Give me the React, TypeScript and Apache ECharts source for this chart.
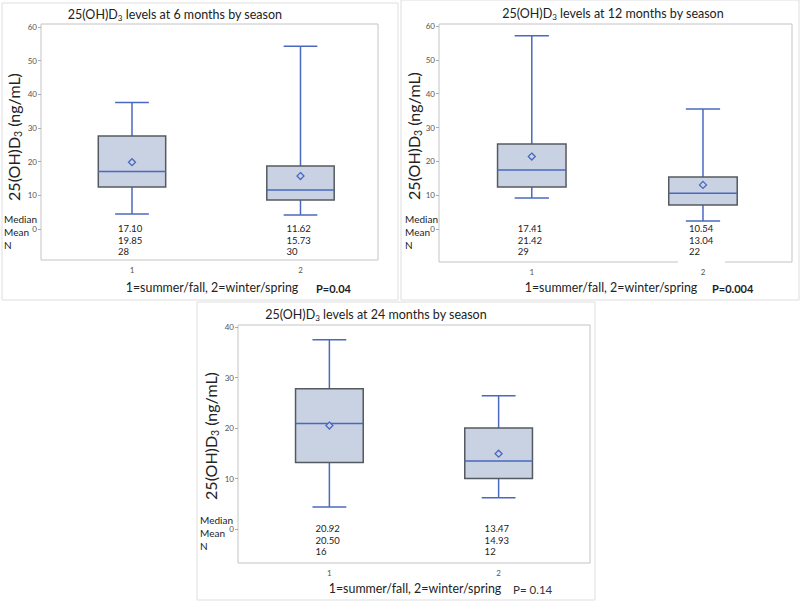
import React, { useEffect, useRef } from "react";
import * as echarts from "echarts";

// Category codes: 1 = summer/fall, 2 = winter/spring
const categories = [1, 2];

// [min, Q1, median, Q3, max] per season
const box6m = [
  [4.5, 12.5, 17.1, 27.6, 37.6],
  [4.2, 8.6, 11.62, 18.7, 54.3],
];
const mean6m = [19.85, 15.73];
const n6m = [28, 30];

const box12m = [
  [9.2, 12.4, 17.41, 25.1, 57.1],
  [2.4, 7.1, 10.54, 15.4, 35.5],
];
const mean12m = [21.42, 13.04];
const n12m = [29, 22];

const box24m = [
  [4.4, 13.2, 20.92, 27.8, 37.5],
  [6.2, 10.0, 13.47, 20.0, 26.4],
];
const mean24m = [20.5, 14.93];
const n24m = [16, 12];

const yTicksTop = [0, 10, 20, 30, 40, 50, 60];
const yTicksBottom = [0, 10, 20, 30, 40];

const titleMonths = ["6", "12", "24"];
const pValues = ["P=0.04", "P=0.004", "P= 0.14"];
const xAxisTitle = "1=summer/fall, 2=winter/spring";
const statLabels = ["Median", "Mean", "N"];

const FONT = "Lato, 'Open Sans', sans-serif";
const BLUE = "#4a68c0";
const BOX_FILL = "#c8d2e3";
const BOX_EDGE = "#555a60";
const TEXT = "#222";

type Panel = {
  grid: { left: number; top: number; width: number; height: number };
  xMin: number;
  xMax: number;
  yMin: number;
  yMax: number;
  yTicks: number[];
  box: number[][];
  mean: number[];
  n: number[];
  titleX: number;
  titleY: number;
  yNameX: number;
  yNameY: number;
  xTitleX: number;
  xTitleY: number;
  pX: number;
  pBold: boolean;
  statX: number;
  statY: number;
  frame: [number, number, number, number];
};

const panels: Panel[] = [
  {
    grid: { left: 41, top: 24, width: 337, height: 236 },
    xMin: 0.46, xMax: 2.46, yMin: -9.2, yMax: 60.9, yTicks: yTicksTop,
    box: box6m, mean: mean6m, n: n6m,
    titleX: 175, titleY: 14, yNameX: 13, yNameY: 137,
    xTitleX: 212, xTitleY: 287, pX: 316, pBold: true,
    statX: 4, statY: 232, frame: [2, 3, 396, 297],
  },
  {
    grid: { left: 439, top: 24, width: 353, height: 238 },
    xMin: 0.458, xMax: 2.52, yMin: -9.75, yMax: 60.6, yTicks: yTicksTop,
    box: box12m, mean: mean12m, n: n12m,
    titleX: 613, titleY: 13, yNameX: 413, yNameY: 136,
    xTitleX: 611, xTitleY: 287, pX: 712, pBold: true,
    statX: 405, statY: 232, frame: [401, 0, 398, 300],
  },
  {
    grid: { left: 238, top: 325, width: 352, height: 238 },
    xMin: 0.46, xMax: 2.54, yMin: -6.7, yMax: 40.4, yTicks: yTicksBottom,
    box: box24m, mean: mean24m, n: n24m,
    titleX: 376, titleY: 314, yNameX: 210, yNameY: 436,
    xTitleX: 415, xTitleY: 588, pX: 513, pBold: false,
    statX: 200, statY: 532.5, frame: [197, 302, 398, 298],
  },
];

const renderBox = (_params: any, api: any) => {
  const x = api.value(0);
  const lo = api.value(1);
  const q1 = api.value(2);
  const med = api.value(3);
  const q3 = api.value(4);
  const hi = api.value(5);
  const mean = api.value(6);
  const n = api.value(7);
  const c = (v: number) => api.coord([x, v]);
  const unit = api.size([1, 0])[0];
  const bw = unit * 0.4;
  const cw = unit * 0.2;
  const cx = c(med)[0];
  const yLo = c(lo)[1];
  const yQ1 = c(q1)[1];
  const yMed = c(med)[1];
  const yQ3 = c(q3)[1];
  const yHi = c(hi)[1];
  const yMean = c(mean)[1];
  const y0 = c(0)[1];
  const ws = { stroke: BLUE, lineWidth: 1.5 };
  const d = 3.5;
  return {
    type: "group",
    children: [
      { type: "line", shape: { x1: cx, y1: yQ3, x2: cx, y2: yHi }, style: ws },
      { type: "line", shape: { x1: cx, y1: yQ1, x2: cx, y2: yLo }, style: ws },
      { type: "line", shape: { x1: cx - cw / 2, y1: yHi, x2: cx + cw / 2, y2: yHi }, style: ws },
      { type: "line", shape: { x1: cx - cw / 2, y1: yLo, x2: cx + cw / 2, y2: yLo }, style: ws },
      {
        type: "rect",
        shape: { x: cx - bw / 2, y: yQ3, width: bw, height: yQ1 - yQ3 },
        style: { fill: BOX_FILL, stroke: BOX_EDGE, lineWidth: 1.5 },
      },
      { type: "line", shape: { x1: cx - bw / 2, y1: yMed, x2: cx + bw / 2, y2: yMed }, style: ws },
      {
        type: "polygon",
        shape: { points: [[cx, yMean - d], [cx + d, yMean], [cx, yMean + d], [cx - d, yMean]] },
        style: { fill: BOX_FILL, stroke: BLUE, lineWidth: 1.3 },
      },
      {
        type: "text",
        x: cx - 14,
        y: y0 + 11,
        style: {
          text: `${med.toFixed(2)}\n${mean.toFixed(2)}\n${n}`,
          fontSize: 9.5,
          fontFamily: FONT,
          fill: TEXT,
          lineHeight: 11.8,
          align: "left",
          verticalAlign: "middle",
        },
      },
    ],
  };
};

export default function App() {
  const ref = useRef<HTMLDivElement>(null);
  useEffect(() => {
    if (!ref.current) return;
    const chart = echarts.init(ref.current, undefined, { renderer: "svg" });

    const grids = panels.map((p) => ({
      ...p.grid,
      show: true,
      borderColor: "#c4c4c4",
      borderWidth: 1,
      backgroundColor: "transparent",
      containLabel: false,
    }));

    const xAxes = panels.map((p, i) => ({
      type: "value",
      gridIndex: i,
      min: p.xMin,
      max: p.xMax,
      axisLine: { show: false },
      splitLine: { show: false },
      axisTick: { show: true, length: 3, customValues: categories, lineStyle: { color: "#aaa" } },
      axisLabel: {
        customValues: categories,
        fontSize: 8,
        color: "#555",
        fontFamily: FONT,
        margin: 6,
      },
    }));

    const yAxes = panels.map((p, i) => ({
      type: "value",
      gridIndex: i,
      min: p.yMin,
      max: p.yMax,
      axisLine: { show: false },
      splitLine: { show: false },
      axisTick: { show: true, length: 3, customValues: p.yTicks, lineStyle: { color: "#aaa" } },
      axisLabel: {
        customValues: p.yTicks,
        fontSize: 8,
        color: "#555",
        fontFamily: FONT,
        margin: 4,
      },
    }));

    const series = panels.map((p, i) => ({
      type: "custom",
      xAxisIndex: i,
      yAxisIndex: i,
      clip: false,
      renderItem: renderBox,
      encode: { x: 0, y: [1, 2, 3, 4, 5] },
      data: categories.map((c, k) => [c, ...p.box[k], p.mean[k], p.n[k]]),
    }));

    const graphic: any[] = [];
    panels.forEach((p, i) => {
      const [fx, fy, fw, fh] = p.frame;
      graphic.push({
        type: "rect",
        z: -10,
        shape: { x: fx, y: fy, width: fw, height: fh },
        style: { fill: "none", stroke: "#dedede", lineWidth: 1 },
      });
      graphic.push({
        type: "text",
        x: p.titleX,
        y: p.titleY,
        style: {
          text: `25(OH)D{s|3} levels at ${titleMonths[i]} months by season`,
          fontSize: 12.5,
          fontFamily: FONT,
          fill: TEXT,
          align: "center",
          verticalAlign: "middle",
          rich: { s: { fontSize: 8, fontFamily: FONT, fill: TEXT, padding: [7, 0, 0, 0] } },
        },
      });
      graphic.push({
        type: "text",
        x: p.yNameX,
        y: p.yNameY,
        rotation: Math.PI / 2,
        style: {
          text: "25(OH)D{s|3} (ng/mL)",
          fontSize: 16,
          fontFamily: FONT,
          fill: TEXT,
          align: "center",
          verticalAlign: "middle",
          rich: { s: { fontSize: 10.5, fontFamily: FONT, fill: TEXT, padding: [9, 0, 0, 0] } },
        },
      });
      graphic.push({
        type: "text",
        x: p.xTitleX,
        y: p.xTitleY,
        style: {
          text: xAxisTitle,
          fontSize: 12.4,
          fontFamily: FONT,
          fill: TEXT,
          align: "center",
          verticalAlign: "middle",
        },
      });
      graphic.push({
        type: "text",
        x: p.pX,
        y: p.xTitleY + 1,
        style: {
          text: pValues[i],
          fontSize: p.pBold ? 11 : 11.5,
          fontWeight: p.pBold ? "bold" : "normal",
          fontFamily: FONT,
          fill: p.pBold ? TEXT : "#333",
          align: "left",
          verticalAlign: "middle",
        },
      });
      graphic.push({
        type: "text",
        x: p.statX,
        y: p.statY,
        style: {
          text: statLabels.join("\n"),
          fontSize: 10,
          fontFamily: FONT,
          fill: TEXT,
          lineHeight: 13,
          align: "left",
          verticalAlign: "middle",
        },
      });
    });

    // white patch breaking the lower frame of the 12-month plot, as in the source image
    graphic.push({
      type: "rect",
      z: 1,
      shape: { x: 678, y: 258, width: 47, height: 8 },
      style: { fill: "#fff" },
    });

    chart.setOption({
      animation: false,
      backgroundColor: "#fff",
      grid: grids,
      xAxis: xAxes,
      yAxis: yAxes,
      series,
      graphic,
    });
    return () => chart.dispose();
  }, []);

  return (
    <div
      ref={ref}
      style={{ position: "fixed", left: 0, top: 0, width: 800, height: 601 }}
    />
  );
}
